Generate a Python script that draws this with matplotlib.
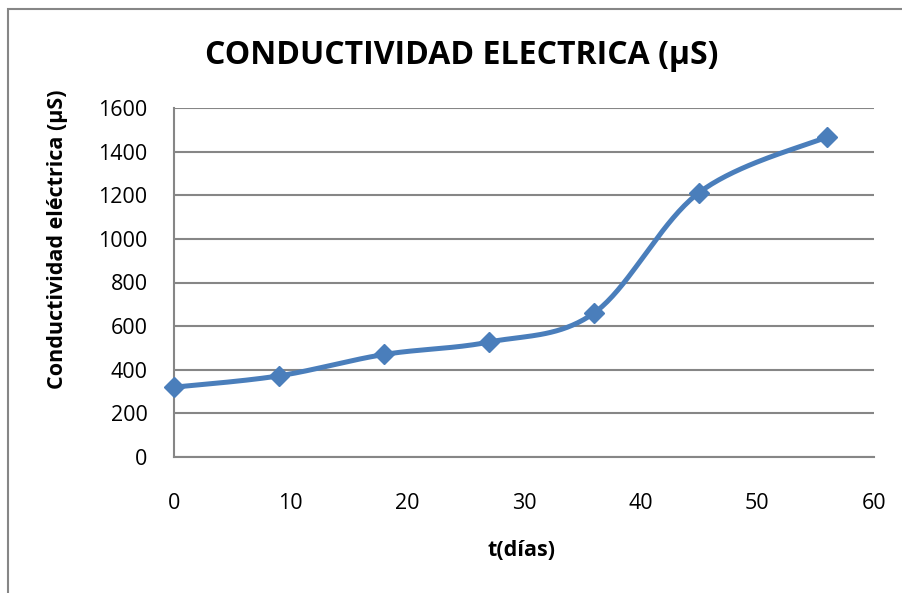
import numpy as np
import matplotlib.pyplot as plt
from matplotlib.patches import Rectangle

# Datos
dias = [0, 9, 18, 27, 36, 45, 56]
conductividad = [320, 372, 470, 527, 660, 1212, 1468]

x_ticks = [0, 10, 20, 30, 40, 50, 60]
y_ticks = [0, 200, 400, 600, 800, 1000, 1200, 1400, 1600]

titulo = "CONDUCTIVIDAD ELECTRICA (µS)"
x_label = "t(días)"
y_label = "Conductividad eléctrica (µS)"

plt.rcParams['font.family'] = ['Open Sans', 'DejaVu Sans']

BLUE = '#4A7EBB'
GRAY = '#868686'


# Curva suavizada tipo Excel (Bezier con tangentes Catmull-Rom)
def smooth_curve(x, y, sx, sy, n=40):
    px = np.array(x, float) * sx
    py = np.array(y, float) * sy
    out_x, out_y = [], []
    for i in range(len(px) - 1):
        p0 = i - 1 if i > 0 else i
        p3 = i + 2 if i + 2 < len(px) else i + 1
        c1x = px[i] + (px[i + 1] - px[p0]) / 6
        c1y = py[i] + (py[i + 1] - py[p0]) / 6
        c2x = px[i + 1] - (px[p3] - px[i]) / 6
        c2y = py[i + 1] - (py[p3] - py[i]) / 6
        t = np.linspace(0, 1, n)
        bx = (1-t)**3*px[i] + 3*(1-t)**2*t*c1x + 3*(1-t)*t**2*c2x + t**3*px[i+1]
        by = (1-t)**3*py[i] + 3*(1-t)**2*t*c1y + 3*(1-t)*t**2*c2y + t**3*py[i+1]
        out_x.extend(bx)
        out_y.extend(by)
    return np.array(out_x) / sx, np.array(out_y) / sy


fig = plt.figure(figsize=(9.03, 5.93), dpi=100)
ax = fig.add_axes([174/903, 1 - 457/593, 700/903, 349/593])

# marco exterior del grafico
fig.patches.append(Rectangle((8/903, -0.1), 1.2, 1 - 9/593 + 0.1, transform=fig.transFigure,
                             fill=False, edgecolor=GRAY, linewidth=1.5, clip_on=False))

sx = 700 / 60
sy = 349 / 1600
cx, cy = smooth_curve(dias, conductividad, sx, sy)
ax.plot(cx, cy, color=BLUE, linewidth=3.6, solid_capstyle='round', zorder=3)
ax.plot(dias, conductividad, linestyle='none', marker='D', markersize=10.5,
        color=BLUE, zorder=4, clip_on=False)

ax.set_xlim(0, 60)
ax.set_ylim(0, 1600)
ax.set_xticks(x_ticks)
ax.set_yticks(y_ticks)
ax.tick_params(length=0, labelsize=15.5)
ax.tick_params(axis='y', pad=19)
ax.tick_params(axis='x', pad=26)
ax.yaxis.grid(True, color=GRAY, linewidth=1.5)
ax.set_axisbelow(True)
for s in ['top', 'right']:
    ax.spines[s].set_visible(False)
for s in ['left', 'bottom']:
    ax.spines[s].set_color(GRAY)
    ax.spines[s].set_linewidth(1.5)

fig.text(462/903, 1 - 55/593, titulo, ha='center', va='center', fontsize=23, fontweight='bold')
fig.text(522/903, 1 - 551/593, x_label, ha='center', va='center', fontsize=15.5, fontweight='bold')
fig.text(58/903, 1 - 239/593, y_label, ha='center', va='center', rotation=90,
         fontsize=15.5, fontweight='bold')

fig.savefig('out.png', dpi=100)
